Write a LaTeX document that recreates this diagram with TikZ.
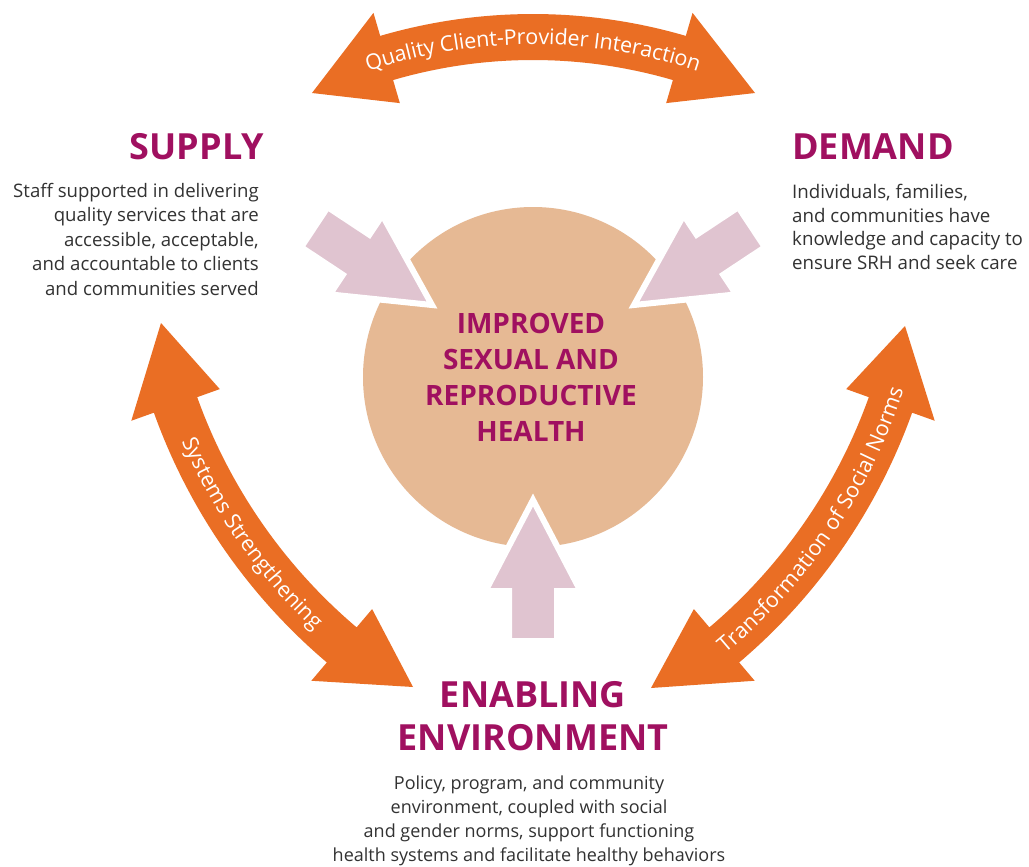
\documentclass[tikz,border=0pt]{standalone}
\usepackage{fontspec}
\setmainfont{Open Sans}
\setsansfont{Open Sans}
\usetikzlibrary{decorations.text}
\definecolor{orng}{RGB}{234,110,36}
\definecolor{pinkar}{RGB}{224,196,208}
\definecolor{tanfill}{RGB}{230,185,148}
\definecolor{mag}{RGB}{160,16,96}
\definecolor{bodygray}{RGB}{50,50,50}
\newcommand{\bowfont}{\color{white}\fontsize{21.5}{21.5}\selectfont}
% #1 cx, #2 cy, #3 R, #4 a1, #5 a2, #6 tip at a1, #7 tip at a2
\newcommand{\orangebow}[7]{%
  \fill[bowfill] #6
    -- ({#1+(#3+47)*cos(#4)},{#2+(#3+47)*sin(#4)})
    -- plot[domain=#4:#5,samples=60] ({#1+(#3+23)*cos(\x)},{#2+(#3+23)*sin(\x)})
    -- ({#1+(#3+47)*cos(#5)},{#2+(#3+47)*sin(#5)})
    -- #7
    -- ({#1+(#3-47)*cos(#5)},{#2+(#3-47)*sin(#5)})
    -- plot[domain=#5:#4,samples=60] ({#1+(#3-23)*cos(\x)},{#2+(#3-23)*sin(\x)})
    -- ({#1+(#3-47)*cos(#4)},{#2+(#3-47)*sin(#4)}) -- cycle;}
% pink arrow: tip x, tip y, rotation
\newcommand{\pinkarrow}[3]{%
  \begin{scope}[shift={(#1,#2)},rotate=#3]
    \path[pinkstyle] (0,0) -- (-91,-47.5) -- (-91,-24) -- (-141,-24)
      -- (-141,24) -- (-91,24) -- (-91,47.5) -- cycle;
  \end{scope}}
\begin{document}
\begin{tikzpicture}[x=1pt,y=-1pt,
  bowfill/.style={fill=orng},
  pinkstyle/.style={fill=pinkar,draw=white,line width=6pt,line join=miter},
  titletext/.style={text=mag,font=\fontsize{36}{43.5}\selectfont\bfseries,inner sep=0pt},
  bodytext/.style={text=bodygray,inner sep=0pt},
  coretext/.style={text=mag,font=\fontsize{28}{36}\selectfont\bfseries,align=center,inner sep=0pt}]
\fill[white] (0,0) rectangle (1029,867);
\path[use as bounding box] (0,0) rectangle (1029,867);

% central circle
\node[circle,fill=tanfill,minimum size=340pt,inner sep=0pt] (core) at (533,377) {};

% pink arrows into the circle
\pinkarrow{432}{305}{-33.5}
\pinkarrow{634}{305}{-146.5}
\pinkarrow{533}{500}{90}

% orange double arrows
\coordinate (qL) at (312,93);
\coordinate (qR) at (755,93);
\coordinate (sT) at (161,323);
\coordinate (sB) at (413,687);
\coordinate (tT) at (905,326);
\coordinate (tB) at (651,688);
\orangebow{533}{558.5}{521.5}{-106.3}{-73.7}{(qL)}{(qR)}
\orangebow{706.5}{214.8}{564}{160.3}{130.3}{(sT)}{(sB)}
\orangebow{359.5}{214.8}{564}{19.7}{49.7}{(tT)}{(tB)}

% labels along the orange arrows
\path[decorate,decoration={text along path,text align=center,raise=-7.5pt,
  text={|\bowfont|Quality Client-Provider Interaction}}]
  plot[domain=-113:-67,samples=80] ({533+521.5*cos(\x)},{558.5+521.5*sin(\x)});
\path[decorate,decoration={text along path,text align=center,raise=-7.5pt,
  text={|\bowfont|Systems Strengthening}}]
  plot[domain=166:124,samples=80] ({706.5+564*cos(\x)},{214.8+564*sin(\x)});
\path[decorate,decoration={text along path,text align=center,raise=-7.5pt,
  text={|\bowfont|Transformation of Social Norms}}]
  plot[domain=54:14,samples=80] ({359.5+564*cos(\x)},{214.8+564*sin(\x)});

% central text
\node[coretext] (coretxt) at (531,377) {IMPROVED\\SEXUAL AND\\REPRODUCTIVE\\HEALTH};

% titles
\node[titletext,anchor=east] (supply) at (264,147) {SUPPLY};
\node[titletext,anchor=west] (demand) at (792,147) {DEMAND};
\node[titletext,align=center] (enabling) at (533,716) {ENABLING\\ENVIRONMENT};

% body texts
\node[bodytext,font=\fontsize{18.6}{24.5}\selectfont,align=right,anchor=east] (supplybody) at (259,239)
  {Staff supported in delivering\\quality services that are\\accessible, acceptable,\\and accountable to clients\\and communities served};
\node[bodytext,font=\fontsize{18.7}{23.7}\selectfont,align=left,anchor=west] (demandbody) at (792,227)
  {Individuals, families,\\and communities have\\knowledge and capacity to\\ensure SRH and seek care};
\node[bodytext,font=\fontsize{18}{24}\selectfont,align=center] (enablingbody) at (529,821)
  {Policy, program, and community\\environment, coupled with social\\and gender norms, support functioning\\health systems and facilitate healthy behaviors};
\end{tikzpicture}
\end{document}
